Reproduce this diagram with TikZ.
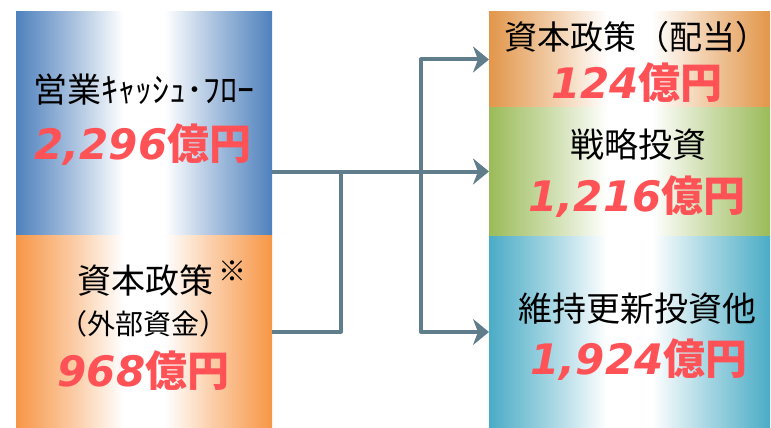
\documentclass[tikz,border=0pt]{standalone}
\usepackage{fontspec}
\newfontfamily\jp{Noto Sans CJK JP}
\newfontfamily\numf{DejaVu Sans}
\usetikzlibrary{arrows.meta}
\definecolor{cblue}{HTML}{4F81BD}
\definecolor{corange}{HTML}{F79646}
\definecolor{corange2}{HTML}{E2964A}
\definecolor{cgreen}{HTML}{9BBB59}
\definecolor{cteal}{HTML}{4BACC6}
\definecolor{cred}{HTML}{FF5257}
\definecolor{cline}{HTML}{607D8B}
\newcommand\mkshade[2]{\pgfdeclarehorizontalshading{#1}{100bp}{color(0bp)=(#2); color(25bp)=(#2); color(36bp)=(#2!50!white); color(46bp)=(white); color(54bp)=(white); color(64bp)=(#2!50!white); color(75bp)=(#2); color(100bp)=(#2)}}
\mkshade{shblue}{cblue}
\mkshade{shorange}{corange}
\mkshade{shorangeb}{corange2}
\mkshade{shgreen}{cgreen}
\mkshade{shteal}{cteal}
\newcommand\amount[1]{{\numf\bfseries\itshape #1}{\jp\bfseries 億円}}
\tikzset{
  box/.style={rectangle, draw=none, inner sep=0pt, outer sep=0pt},
  lbl/.style={inner sep=0pt, outer sep=0pt, anchor=center, text=black, font=\jp\fontsize{34}{40}\selectfont},
  sublbl/.style={inner sep=0pt, outer sep=0pt, anchor=center, text=black, font=\jp\fontsize{28}{34}\selectfont},
  amt/.style={inner sep=0pt, outer sep=0pt, anchor=center, text=cred, font=\fontsize{42}{48}\selectfont},
  conn/.style={draw=cline, line width=4pt, line join=round},
  tip/.style={-{Stealth[length=16pt,width=26pt,inset=5pt]}}
}
\begin{document}
\begin{tikzpicture}[x=1pt,y=-1pt]
\useasboundingbox (0,0) rectangle (771,428);
% boxes
\node[box, minimum width=256pt, minimum height=223pt, shading=shblue] (cf) at (144,123.5) {};
\node[box, minimum width=256pt, minimum height=193pt, shading=shorange] (cap) at (144,331.5) {};
\node[box, minimum width=281pt, minimum height=95pt, shading=shorangeb] (div) at (629.5,59.5) {};
\node[box, minimum width=281pt, minimum height=129pt, shading=shgreen] (strat) at (629.5,171.5) {};
\node[box, minimum width=281pt, minimum height=192pt, shading=shteal] (maint) at (629.5,332) {};
% texts
\node[lbl] (cft) at (144,90) {営業ｷｬｯｼｭ･ﾌﾛｰ};
\node[amt] (cfa) at (143,145) {\amount{2,296}};
\node[lbl] (capt) at (145,281) {資本政策};
\node[sublbl, font=\jp\fontsize{28}{30}\selectfont] (note) at (232,271) {※};
\node[sublbl] (caps) at (143,324) {（外部資金）};
\node[amt] (capa) at (143.5,371) {\amount{968}};
\node[lbl, font=\jp\fontsize{33}{38}\selectfont] (divt) at (636,37) {資本政策（配当）};
\node[amt] (diva) at (637,83) {\amount{124}};
\node[lbl] (stratt) at (638,145) {戦略投資};
\node[amt] (strata) at (637,197) {\amount{1,216}};
\node[lbl] (maintt) at (637,309) {維持更新投資他};
\node[amt] (mainta) at (639,360) {\amount{1,924}};
% connectors
\coordinate (j) at (341,0);
\coordinate (v) at (421,0);
\draw[conn] (cap.east) -| (j |- strat.west);
\draw[conn, tip] (cf.east |- strat.west) -- (strat.west);
\draw[conn, tip] (v |- strat.west) |- (div.west);
\draw[conn, tip] (v |- strat.west) |- (maint.west);
\end{tikzpicture}
\end{document}
